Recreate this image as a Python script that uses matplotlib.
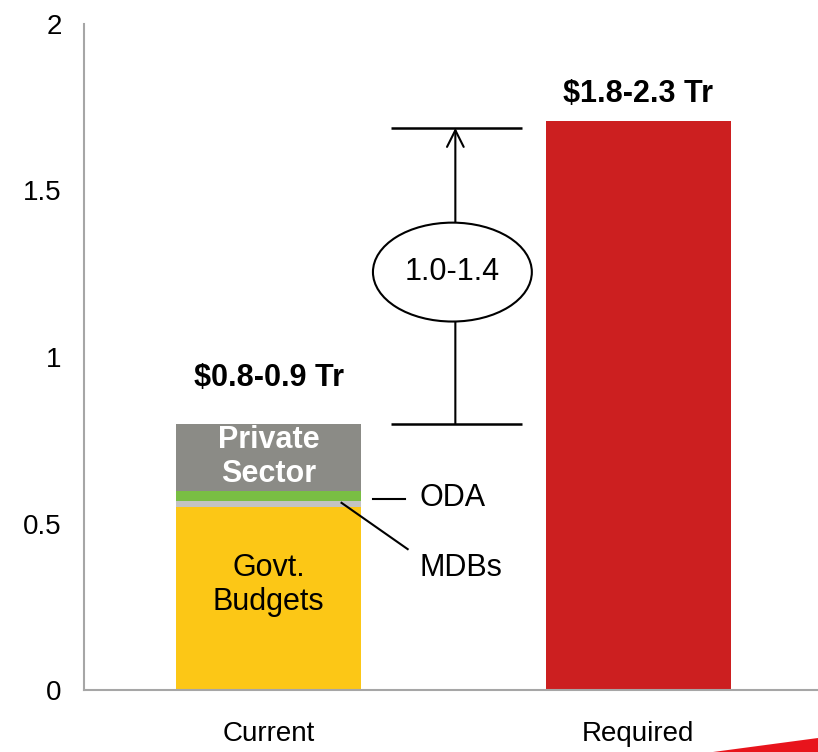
import matplotlib
matplotlib.use("Agg")
import matplotlib.pyplot as plt
from matplotlib.patches import Ellipse, Polygon

plt.rcParams['font.family'] = ['Liberation Sans', 'DejaVu Sans']

# data (trillion USD)
categories = ["Current", "Required"]
govt_budgets = 0.55
mdbs = 0.018
oda = 0.03
private_sector = 0.202
required = 1.71
gap_top = 1.688
gap_label = "1.0-1.4"
current_label = "$0.8-0.9 Tr"
required_label = "$1.8-2.3 Tr"

c_govt = "#FCC716"
c_mdb = "#C3C3C3"
c_oda = "#79BE43"
c_priv = "#8B8B86"
c_req = "#CC1F20"

fig = plt.figure(figsize=(8.18, 7.52), dpi=100)
ax = fig.add_axes([84 / 818, 62 / 752, (823 - 84) / 818, (690 - 24) / 752])

x = [0, 1]
w = 0.5
bottom = 0
for val, col in [(govt_budgets, c_govt), (mdbs, c_mdb), (oda, c_oda), (private_sector, c_priv)]:
    ax.bar(x[0], val, width=w, bottom=bottom, color=col, linewidth=0)
    bottom += val
current_total = bottom
ax.bar(x[1], required, width=w, color=c_req, linewidth=0)

ax.set_xlim(-0.5, 1.5)
ax.set_ylim(0, 2)
ax.set_yticks([0, 0.5, 1, 1.5, 2])
ax.set_yticklabels(["0", "0.5", "1", "1.5", "2"])
ax.set_xticks(x)
ax.set_xticklabels(categories)
ax.tick_params(axis='y', length=0, pad=16, labelsize=20)
ax.tick_params(axis='x', length=0, pad=22, labelsize=20)
for s in ["top", "right"]:
    ax.spines[s].set_visible(False)
for s in ["left", "bottom"]:
    ax.spines[s].set_color("#A6A6A6")
    ax.spines[s].set_linewidth(1.5)

# bar labels
ax.text(x[0], 0.937, current_label, ha='center', va='center', fontsize=22, fontweight='bold')
ax.text(x[1], 1.79, required_label, ha='center', va='center', fontsize=22, fontweight='bold')
ax.text(x[0], 0.700, "Private\nSector", ha='center', va='center',
        fontsize=22, fontweight='bold', color='white', linespacing=1.2)
ax.text(x[0], 0.315, "Govt.\nBudgets", ha='center', va='center', fontsize=22, linespacing=1.2)

# ODA / MDBs callouts
ax.plot([0.281, 0.370], [0.573, 0.573], color='black', lw=1.5)
ax.text(0.408, 0.577, "ODA", ha='left', va='center', fontsize=22)
ax.plot([0.197, 0.376], [0.562, 0.423], color='black', lw=1.5)
ax.text(0.408, 0.366, "MDBs", ha='left', va='center', fontsize=22)

# gap bracket
ax.hlines([current_total, gap_top], 0.332, 0.686, color='black', lw=1.8)
ax.annotate("", xy=(0.505, gap_top), xytext=(0.505, current_total),
            arrowprops=dict(arrowstyle='->', color='black', lw=1.5, mutation_scale=30,
                            shrinkA=0, shrinkB=0))
ax.add_patch(Ellipse((0.497, 1.255), 0.43, 0.297, facecolor='white', edgecolor='black',
                     lw=1.5, zorder=5))
ax.text(0.497, 1.255, gap_label, ha='center', va='center', fontsize=22, zorder=6)

# red swoosh in the corner
fig.patches.append(Polygon([(713 / 818, 0), (1, 14 / 752), (1, 0)], closed=True,
                           transform=fig.transFigure, facecolor='#E8141C', edgecolor='none'))

fig.savefig("out.png", dpi=100)
